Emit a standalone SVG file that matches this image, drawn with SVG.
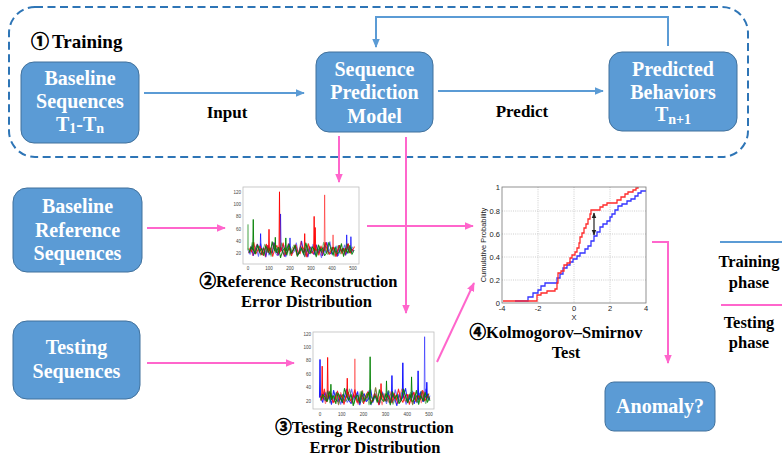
<svg xmlns="http://www.w3.org/2000/svg" xmlns:xlink="http://www.w3.org/1999/xlink" width="782" height="461" viewBox="0 0 782 461">
  <style>
    .box { fill: #5B9BD5; stroke: #41719C; stroke-width: 1; }
    .boxtext { font-family: "Liberation Serif", "Times New Roman", serif; font-weight: bold; font-size: 20px; fill: #ffffff; text-anchor: middle; }
    .label { font-family: "Liberation Serif", "Times New Roman", "Noto Sans CJK SC", serif; font-weight: bold; font-size: 16.5px; fill: #000000; text-anchor: middle; }
    .circ { font-family: "Noto Sans CJK SC", "DejaVu Sans", sans-serif; font-weight: bold; stroke: #000000; stroke-width: 0.6; }
    .blue { fill: none; stroke: #5B9BD5; stroke-width: 2; }
    .pink { fill: none; stroke: #FF66CC; stroke-width: 2; }
    .tick { font-family: "Liberation Sans", Arial, sans-serif; font-size: 4.5px; fill: #444444; }
    .ktick { font-family: "Liberation Sans", Arial, sans-serif; font-size: 7.5px; fill: #222222; }
    .noise { fill: none; stroke-width: 1; vector-effect: non-scaling-stroke; stroke-linejoin: round; }
    .grid { stroke: #b8b8b8; stroke-width: 0.7; stroke-dasharray: 1 1.2; }
  </style>
  <defs>
    <marker id="ah-blue" viewBox="0 0 10 10" refX="9" refY="5" markerWidth="4.5" markerHeight="4.5" orient="auto">
      <path d="M0,0.8 L10,5 L0,9.2 z" fill="#5B9BD5"/>
    </marker>
    <marker id="ah-pink" viewBox="0 0 10 10" refX="9" refY="5" markerWidth="4.5" markerHeight="4.5" orient="auto">
      <path d="M0,0.8 L10,5 L0,9.2 z" fill="#FF66CC"/>
    </marker>
    <marker id="ah-black" viewBox="0 0 10 10" refX="9" refY="5" markerWidth="5" markerHeight="5" orient="auto-start-reverse">
      <path d="M0,1 L10,5 L0,9 z" fill="#222222"/>
    </marker>
    <!-- noise traces in data units: x = t/5 (0..100), y = error value -->
    <path id="n1" d="M0,25 L2,18 4,33 6,20 8,28 10,15 12,36 14,22 16,19 18,30 20,17 22,27 24,38 26,21 28,16 30,29 32,24 34,34 36,14 38,26 40,31 42,19 44,23 46,37 48,18 50,28 52,22 54,15 56,33 58,25 60,20 62,35 64,17 66,29 68,24 70,13 72,30 74,21 76,27 78,39 80,18 82,25 84,32 86,16 88,28 90,22 92,34 94,19 96,26 98,30 100,21"/>
    <path id="n2" d="M0,20 L2,31 4,16 6,27 8,35 10,22 12,18 14,29 16,14 18,33 20,24 22,20 24,37 26,26 28,17 30,30 32,23 34,15 36,28 38,36 40,19 42,25 44,32 46,17 48,22 50,40 52,21 54,27 56,14 58,31 60,24 62,18 64,34 66,20 68,29 70,16 72,26 74,38 76,22 78,19 80,30 82,25 84,15 86,33 88,23 90,28 92,17 94,35 96,21 98,27 100,24"/>
    <path id="n3" d="M0,28 L2,22 4,38 6,19 8,26 10,32 12,17 14,24 16,35 18,21 20,29 22,15 24,27 26,33 28,20 30,25 32,37 34,18 36,23 38,30 40,16 42,28 44,34 46,22 48,19 50,31 52,26 54,14 56,36 58,23 60,20 62,29 64,25 66,17 68,32 70,21 72,38 74,24 76,18 78,27 80,30 82,15 84,26 86,33 88,19 90,28 92,22 94,36 96,20 98,25 100,31"/>
  </defs>

  <!-- training stage boundary -->
  <g id="training-stage">
    <rect x="9" y="7" width="739" height="150" rx="26" ry="26" fill="none" stroke="#2E75B6" stroke-width="2" stroke-dasharray="8 4.5"/>
    <text x="31" y="48" font-family="Liberation Serif, serif" font-weight="bold" font-size="19" fill="#000"><tspan class="circ" font-size="18">①</tspan><tspan dx="3">Training</tspan></text>
  </g>

  <!-- connectors -->
  <g id="connectors">
    <path class="blue" d="M144,93 H304" marker-end="url(#ah-blue)"/>
    <path class="blue" d="M438,91 H603" marker-end="url(#ah-blue)"/>
    <path class="blue" d="M668,46 V17 H376 V47" marker-end="url(#ah-blue)"/>
    <path class="pink" d="M339,136 V182" marker-end="url(#ah-pink)"/>
    <path class="pink" d="M406,137 V313" marker-end="url(#ah-pink)"/>
    <path class="pink" d="M147,228 H225" marker-end="url(#ah-pink)"/>
    <path class="pink" d="M367,226 H473" marker-end="url(#ah-pink)"/>
    <path class="pink" d="M147,363 H294" marker-end="url(#ah-pink)"/>
    <path class="pink" d="M437,362 L474,283" marker-end="url(#ah-pink)"/>
    <path class="pink" d="M652,242 H668 V363" marker-end="url(#ah-pink)"/>
    <text x="227" y="118" font-family="Liberation Serif, serif" font-weight="bold" font-size="17" text-anchor="middle">Input</text>
    <text x="522" y="117" font-family="Liberation Serif, serif" font-weight="bold" font-size="17" text-anchor="middle">Predict</text>
  </g>

  <g id="baseline-sequences">
    <rect class="box" x="21" y="62" width="118" height="81" rx="13"/>
    <text class="boxtext" x="80" y="85">Baseline</text>
    <text class="boxtext" x="80" y="108">Sequences</text>
    <text class="boxtext" x="80" y="131">T<tspan font-size="14" dy="2">1</tspan><tspan dy="-2">-T</tspan><tspan font-size="14" dy="2">n</tspan></text>
  </g>

  <g id="sequence-prediction-model">
    <rect class="box" x="316" y="52" width="117" height="80" rx="13"/>
    <text class="boxtext" x="374.5" y="76">Sequence</text>
    <text class="boxtext" x="374.5" y="99">Prediction</text>
    <text class="boxtext" x="374.5" y="123">Model</text>
  </g>

  <g id="predicted-behaviors">
    <rect class="box" x="609" y="52" width="128" height="79" rx="13"/>
    <text class="boxtext" x="673" y="76">Predicted</text>
    <text class="boxtext" x="673" y="99">Behaviors</text>
    <text class="boxtext" x="673" y="121">T<tspan font-size="14" dy="3">n+1</tspan></text>
  </g>

  <g id="baseline-reference-sequences">
    <rect class="box" x="13" y="188" width="129" height="84" rx="14"/>
    <text class="boxtext" x="77.5" y="213">Baseline</text>
    <text class="boxtext" x="77.5" y="237">Reference</text>
    <text class="boxtext" x="77.5" y="260">Sequences</text>
  </g>

  <g id="testing-sequences">
    <rect class="box" x="13" y="321" width="127" height="78" rx="14"/>
    <text class="boxtext" x="76.5" y="354">Testing</text>
    <text class="boxtext" x="76.5" y="378">Sequences</text>
  </g>

  <g id="anomaly">
    <rect class="box" x="605" y="382" width="110" height="49" rx="9"/>
    <text class="boxtext" x="660" y="413">Anomaly?</text>
  </g>

  <!-- reference reconstruction error plot -->
  <g id="reference-error-plot">
    <rect x="243" y="187" width="116" height="77" fill="#ffffff" stroke="#bdbdbd" stroke-width="0.8"/>
    <g transform="matrix(1.05 0 0 -0.615 248 265.6)">
      <g stroke="#0000ff">
        <use href="#n1" class="noise" stroke-opacity="0.55"/>
        <use href="#n2" class="noise" stroke-opacity="0.85" transform="translate(1,0)"/>
        <path class="noise" stroke-opacity="0.7" d="M30.5,25 L31,84 L31.5,25 M11.5,25 L12,52 L12.5,25 M93.5,25 L94,50 L94.5,25 M97.5,25 L98,47 L98.5,25 M39.5,25 L40,45 L40.5,25"/>
      </g>
      <g stroke="#ff0000">
        <use href="#n2" class="noise" stroke-opacity="0.5" transform="translate(0.5,0)"/>
        <use href="#n3" class="noise" stroke-opacity="0.85" transform="translate(1.5,0)"/>
        <path class="noise" stroke-opacity="0.9" d="M29.5,22 L30,120 L30.5,22 M62.5,24 L63,80 L63.5,24 M63.5,24 L64,62 L64.5,24 M19.5,24 L20,59 L20.5,24 M53.5,24 L54,52 L54.5,24"/>
        <path class="noise" stroke-opacity="0.5" d="M72.5,24 L73,115 L73.5,24 M80.5,24 L81,50 L81.5,24"/>
      </g>
      <g stroke="#008000">
        <use href="#n3" class="noise" stroke-opacity="0.5"/>
        <use href="#n1" class="noise" stroke-opacity="0.9" transform="translate(101,0) scale(-1,1)"/>
        <path class="noise" stroke-opacity="0.9" d="M4.5,25 L5,75 L5.5,25 M25.5,24 L26,46 L26.5,24 M35.5,24 L36,45 L36.5,24"/>
        <path class="noise" stroke-opacity="0.4" d="M-0.5,25 L0,67 L0.5,25"/>
      </g>
    </g>
    <g class="tick" text-anchor="end">
      <text x="241" y="193.5">120</text>
      <text x="241" y="205.8">100</text>
      <text x="241" y="218.2">80</text>
      <text x="241" y="230.5">60</text>
      <text x="241" y="242.8">40</text>
      <text x="241" y="255">20</text>
    </g>
    <g class="tick" text-anchor="middle">
      <text x="248" y="270">0</text>
      <text x="269" y="270">100</text>
      <text x="290" y="270">200</text>
      <text x="311" y="270">300</text>
      <text x="332" y="270">400</text>
      <text x="353" y="270">500</text>
    </g>
    <text class="label" x="298.5" y="287"><tspan class="circ" font-size="16.5">②</tspan>Reference Reconstruction</text>
    <text class="label" x="306.5" y="307">Error Distribution</text>
  </g>

  <!-- testing reconstruction error plot -->
  <g id="testing-error-plot">
    <rect x="313" y="332" width="121" height="77" fill="#ffffff" stroke="#bdbdbd" stroke-width="0.8"/>
    <g transform="matrix(1.09 0 0 -0.67 320 414.4)">
      <g stroke="#0000ff">
        <use href="#n3" class="noise" stroke-opacity="0.55" transform="translate(101,0) scale(-1,1)"/>
        <use href="#n1" class="noise" stroke-opacity="0.85" transform="translate(0.5,0)"/>
        <path class="noise" stroke-opacity="0.9" d="M-0.5,25 L0,82 L0.5,25 M75.5,25 L76,77 L76.5,25 M89.5,25 L90,65 L90.5,25 M65.5,25 L66,58 L66.5,25 M97.5,25 L98,48 L98.5,25"/>
        <path class="noise" stroke-opacity="0.5" d="M95.5,25 L96,116 L96.5,25"/>
      </g>
      <g stroke="#ff0000">
        <use href="#n2" class="noise" stroke-opacity="0.5" transform="translate(1,0)"/>
        <use href="#n3" class="noise" stroke-opacity="0.85"/>
        <path class="noise" stroke-opacity="0.9" d="M1.5,25 L2,72 L2.5,25 M6.5,25 L7,85 L7.5,25 M24.5,25 L25,54 L25.5,25 M55.5,25 L56,46 L56.5,25"/>
        <path class="noise" stroke-opacity="0.45" d="M31.5,25 L32,83 L32.5,25"/>
      </g>
      <g stroke="#008000">
        <use href="#n2" class="noise" stroke-opacity="0.5" transform="translate(101,0) scale(-1,1)"/>
        <use href="#n1" class="noise" stroke-opacity="0.9" transform="translate(100.5,0) scale(-1,1)"/>
        <path class="noise" stroke-opacity="0.9" d="M45.5,25 L46,86 L46.5,25 M83.5,25 L84,56 L84.5,25 M60.5,25 L61,50 L61.5,25 M9.5,25 L10,45 L10.5,25"/>
      </g>
    </g>
    <g class="tick" text-anchor="end">
      <text x="311" y="335.5">120</text>
      <text x="311" y="349">100</text>
      <text x="311" y="362.3">80</text>
      <text x="311" y="375.7">60</text>
      <text x="311" y="389.1">40</text>
      <text x="311" y="402.5">20</text>
    </g>
    <g class="tick" text-anchor="middle">
      <text x="320" y="416">0</text>
      <text x="341.8" y="416">100</text>
      <text x="363.6" y="416">200</text>
      <text x="385.4" y="416">300</text>
      <text x="407.2" y="416">400</text>
      <text x="429" y="416">500</text>
    </g>
    <text class="label" x="364.5" y="433"><tspan class="circ" font-size="16.5">③</tspan>Testing Reconstruction</text>
    <text class="label" x="375" y="453">Error Distribution</text>
  </g>

  <!-- two-sample KS test: empirical CDFs -->
  <g id="ks-test">
    <rect x="502" y="187" width="144" height="116" fill="#ffffff"/>
    <g class="grid">
      <line x1="538" y1="187" x2="538" y2="303"/>
      <line x1="574" y1="187" x2="574" y2="303"/>
      <line x1="610" y1="187" x2="610" y2="303"/>
      <line x1="502" y1="211" x2="646" y2="211"/>
      <line x1="502" y1="234" x2="646" y2="234"/>
      <line x1="502" y1="257" x2="646" y2="257"/>
      <line x1="502" y1="280" x2="646" y2="280"/>
    </g>
    <path fill="none" stroke="#3333ff" stroke-width="1.3" d="M515,301 H528 V297 H533 V293 H538 V290 H541 V286 H545 V283 H557 V278 H560 V274 H563 V268 H567 V265 H570 V262 H573 V259 H577 V256 H580 V253 H585 V249 H588 V246 H591 V241 H594 V236 H597 V232 H600 V227 H603 V224 H607 V221 H610 V217 H612 V214 H615 V210 H618 V206 H622 V204 H627 V201 H631 V199 H635 V196 H638 V193 H641 V191 H646"/>
    <path fill="none" stroke="#ff2a2a" stroke-width="1.3" d="M503,301 H537 V295 H541 V293 H547 V291 H555 V289 H557 V283 H558 V273 H561 V271 H564 V265 H567 V263 H570 V258 H572 V255 H575 V252 H577 V248 H579 V243 H580 V237 H582 V233 H584 V228 H586 V224 H588 V219 H590 V214 H591 V210 H600 V207 H603 V205 H607 V203 H617 V200 H621 V197 H625 V194 H628 V192 H633 V190 H636 V188 H638 V187"/>
    <path fill="none" stroke="#222222" stroke-width="1.2" d="M594,213 V235" marker-start="url(#ah-black)" marker-end="url(#ah-black)"/>
    <rect x="502" y="187" width="144" height="116" fill="none" stroke="#777777" stroke-width="0.8"/>
    <g class="ktick" text-anchor="end">
      <text x="500" y="190">1</text>
      <text x="500" y="213.5">0.8</text>
      <text x="500" y="236.5">0.6</text>
      <text x="500" y="259.5">0.4</text>
      <text x="500" y="282.5">0.2</text>
      <text x="500" y="305.5">0</text>
    </g>
    <g class="ktick" text-anchor="middle">
      <text x="502" y="311">-4</text>
      <text x="538" y="311">-2</text>
      <text x="574" y="311">0</text>
      <text x="610" y="311">2</text>
      <text x="646" y="311">4</text>
      <text x="574" y="320">X</text>
    </g>
    <text class="ktick" font-size="8" text-anchor="middle" transform="translate(486,245) rotate(-90)">Cumulative Probability</text>
    <text class="label" x="556" y="338"><tspan class="circ" font-size="16.5">④</tspan>Kolmogorov–Smirnov</text>
    <text class="label" x="566" y="358">Test</text>
  </g>

  <!-- phase legend -->
  <g id="legend">
    <path class="blue" d="M720,242 H790" marker-end="url(#ah-blue)"/>
    <path class="pink" d="M721,305 H790" marker-end="url(#ah-pink)"/>
    <text class="label" x="749" y="267">Training</text>
    <text class="label" x="749" y="288">phase</text>
    <text class="label" x="749" y="328">Testing</text>
    <text class="label" x="749" y="348">phase</text>
  </g>
</svg>
